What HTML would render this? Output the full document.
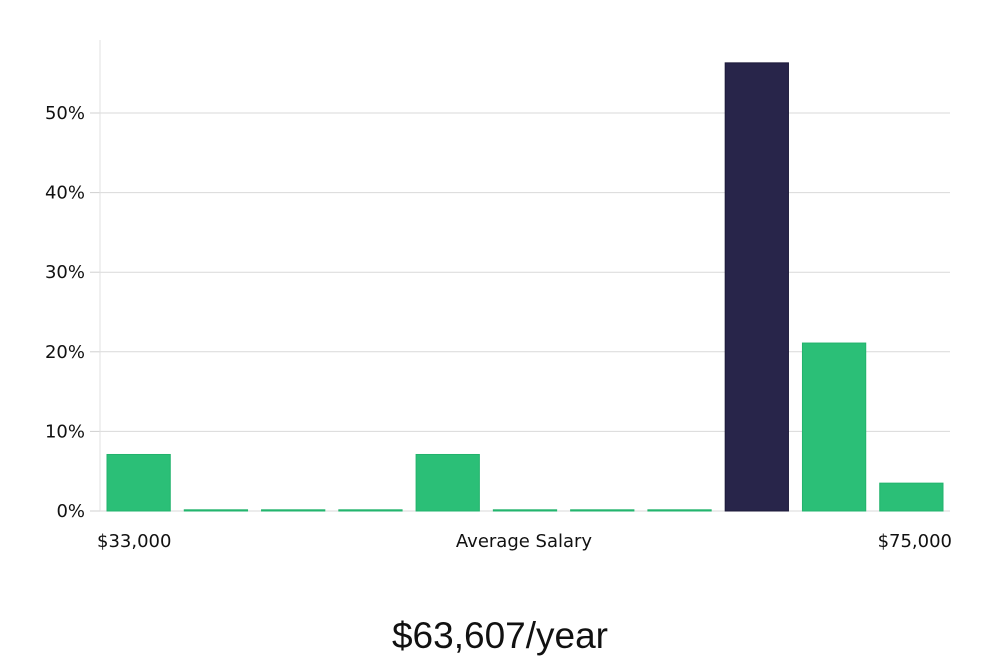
<!DOCTYPE html>
<html><head><meta charset="utf-8"><style>
body{margin:0;background:#fff;width:1000px;height:660px;overflow:hidden}
svg text{font-family:"DejaVu Sans","Liberation Sans",sans-serif}
</style></head><body>
<svg id="chart" width="1000" height="660"></svg>
<script>
const categories=["$33,000","b2","b3","b4","b5","b6","b7","b8","b9","b10","$75,000"];
const values=[7.1,0.15,0.15,0.15,7.1,0.15,0.15,0.15,56.3,21.1,3.5];
const highlight=[false,false,false,false,false,false,false,false,true,false,false];
const yTicks=[0,10,20,30,40,50];
const yTickLabels=["0%","10%","20%","30%","40%","50%"];
const NS="http://www.w3.org/2000/svg";
const svg=document.getElementById('chart');
const X0=100,X1=950,Y0=511,PX=7.96;
const y=v=>Y0-v*PX;
const slot=(X1-X0)/categories.length;
function mk(t,a){const e=document.createElementNS(NS,t);for(const k in a)e.setAttribute(k,a[k]);svg.appendChild(e);return e;}
yTicks.forEach((t,i)=>{
 const g=mk('line',{x1:X0,x2:X1,y1:y(t),y2:y(t),stroke:'#d9d9d9','stroke-width':1});
 
 
 const tk=mk('line',{x1:90,x2:X0,y1:y(t),y2:y(t),stroke:'#d0d0d0'});
 
 
 const tx=mk('text',{x:85,y:y(t)+6,'text-anchor':'end','font-size':18,fill:'#111'});
 tx.textContent=yTickLabels[i];
 
 
});
const ax=mk('line',{x1:X0,x2:X0,y1:40,y2:Y0,stroke:'#e0e0e0'});


values.forEach((v,i)=>{
 const bx=X0+i*slot+7;
 const r=mk('rect',{x:bx,y:y(v),width:slot-14,height:Math.max(v*PX,1),fill:highlight[i]?'#28254a':'#2bbf77',stroke:highlight[i]?'#1c1a3a':'#22b36c','stroke-width':1});
 
 
});
function label(x,t,anchor,name){const e=mk('text',{x:x,y:547,'text-anchor':anchor,'font-size':18,fill:'#111'});e.textContent=t;}
label(97,categories[0],'start','x-min-label');
label(524,'Average Salary','middle','x-axis-title');
label(952,categories[categories.length-1],'end','x-max-label');
const tt=mk('text',{x:500,y:648,'text-anchor':'middle','font-size':37,fill:'#111','font-weight':'300'});
tt.setAttribute('style','font-family:"Liberation Sans",sans-serif');
tt.textContent='$63,607/year';


</script>
</body></html>
